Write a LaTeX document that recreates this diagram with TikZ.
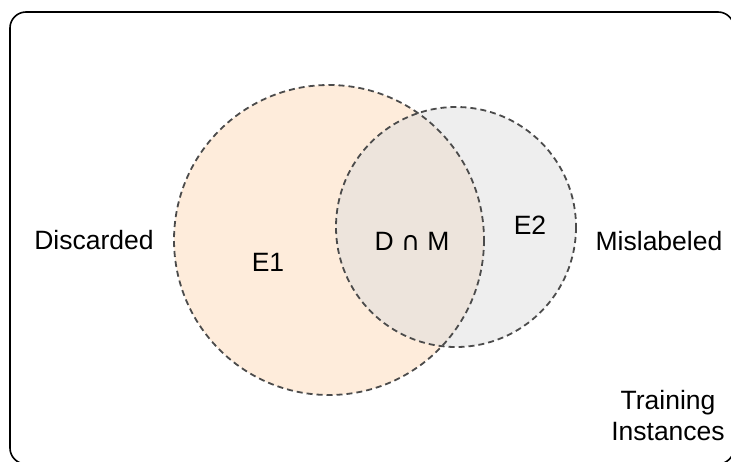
\documentclass[tikz,border=0pt]{standalone}
\usepackage{fontspec}
\setmainfont{Liberation Sans}
\newfontfamily\symfont{DejaVu Sans}
\definecolor{eonefill}{RGB}{254,236,219}
\definecolor{etwofill}{RGB}{221,221,221}
\definecolor{dashgray}{RGB}{75,75,75}
\begin{document}
\begin{tikzpicture}[x=1pt,y=-1pt,
  setcircle/.style={draw=dashgray,line width=1.8pt,dash pattern=on 6pt off 4pt},
  lbl/.style={font=\fontsize{26.5}{31}\selectfont,inner sep=0pt,align=center}]
\useasboundingbox (0,0) rectangle (731,461);
\draw[line width=1.6pt,rounded corners=16pt] (10,12) rectangle (734,464);
\fill[eonefill] (329,240) circle (155);
\fill[etwofill,opacity=0.5] (456,227) circle (120);
\draw[setcircle] (329,240) circle (155);
\draw[setcircle] (456,227) circle (120);
\node[lbl] (disc) at (94,240) {Discarded};
\node[lbl] (e1) at (268,262) {E1};
\node[lbl] (dm) at (412,241) {D {\symfont\fontsize{26}{31}\selectfont ∩} M};
\node[lbl] (e2) at (530,225) {E2};
\node[lbl] (mis) at (659,241) {Mislabeled};
\node[lbl] (train) at (668,416) {Training\\Instances};
\end{tikzpicture}
\end{document}
